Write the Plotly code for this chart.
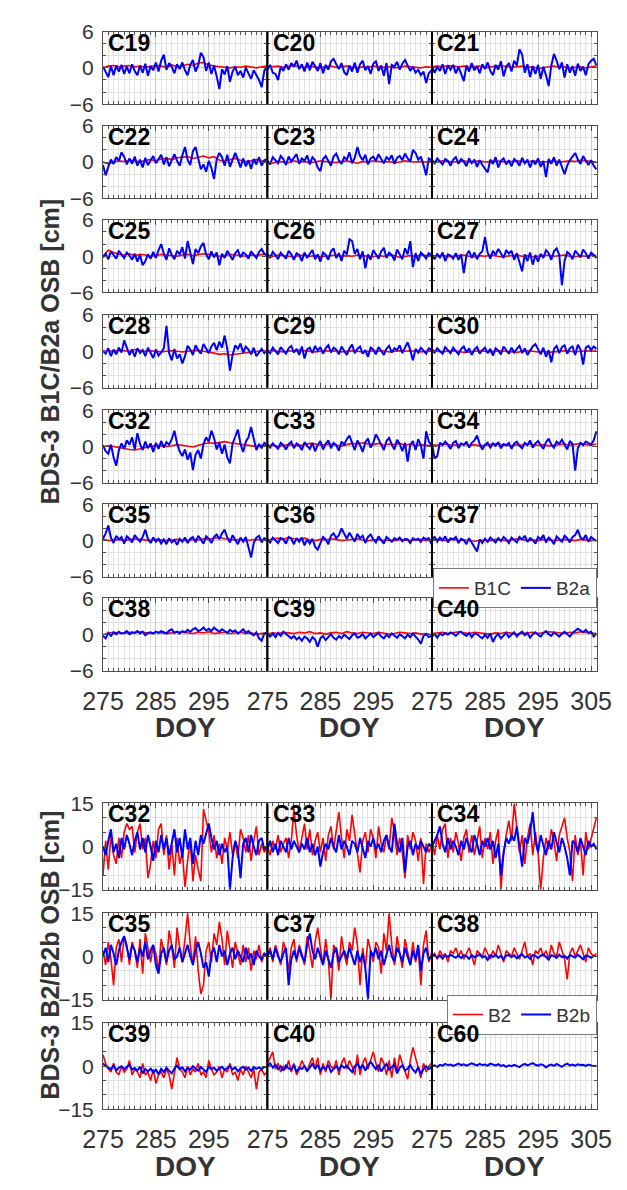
import plotly.graph_objects as go

W, H = 627, 1190
DAYS_HALF = [275 + 0.5 * i for i in range(63)]
DAYS = list(range(275, 307))

TOP_PRN = ["C19", "C20", "C21", "C22", "C23", "C24", "C25", "C26", "C27", "C28", "C29", "C30",
           "C32", "C33", "C34", "C35", "C36", "C37", "C38", "C39", "C40"]
BOT_PRN = ["C32", "C33", "C34", "C35", "C37", "C38", "C39", "C40", "C60"]
TOP_YTICKS = [-6, 0, 6]
BOT_YTICKS = [-15, 0, 15]
XTICKS = [275, 285, 295]
XTICKS_LAST = [275, 285, 295, 305]

# ---------------- B2a OSB (top panels, half-day) ----------------
B2A_C19 = [0.2,-0.8,-1.5,0.3,-1.2,0.4,-0.6,0.5,-1.0,0.2, -0.9,0.6,-0.5,-1.2,0.4,-0.8,0.7,-1.3,0.3,-0.4,
           0.9,-0.6,1.2,2.2,-0.3,0.8,0.2,-0.9,0.6,-0.2, 0.9,-0.4,-1.2,0.5,1.3,-0.6,0.4,2.5,1.8,-0.5,
           0.9,-1.0,0.4,-1.4,-3.5,-0.2,-1.1,0.3,-2.3,-0.6, 0.2,-1.2,-0.5,-1.6,0.1,-0.9,-1.8,-0.4,-1.2,-2.0,
           -3.2,-0.5,0.3]
B2A_C20 = [-0.3,0.5,-0.8,-1.0,-2.0,0.2,-0.5,0.6,-0.3,0.8, 0.2,1.2,-0.2,0.6,-0.6,0.9,-0.4,1.0,0.3,-0.5,
           0.8,-0.9,0.5,-0.3,1.1,1.5,0.6,-0.2,0.8,-0.7, -1.2,0.4,-0.6,0.9,-0.8,0.6,1.2,-0.4,0.3,-1.0,
           0.7,1.1,-0.5,0.4,-1.3,0.8,-2.7,0.5,0.2,1.0, -0.3,0.7,1.3,0.4,-0.5,0.2,-0.8,-0.3,-1.2,-0.6,
           -2.5,-0.9,-0.4]
B2A_C21 = [0.3,-0.8,0.2,-0.5,0.6,-1.0,0.4,-0.3,0.5,-0.9, 0.2,-1.2,-2.2,0.4,-0.6,0.8,-0.4,0.3,-0.9,0.6,
           -0.2,0.9,-0.5,-1.2,0.5,-0.3,1.1,-1.4,0.2,0.8, -0.6,1.2,0.4,3.1,2.2,-0.8,0.6,-1.5,0.3,-1.0,
           0.5,-1.8,0.2,-1.2,-3.0,0.4,2.3,1.2,-0.2,0.9, -1.6,0.6,-0.8,0.3,-1.3,0.7,-0.5,0.2,-1.2,0.6,
           1.2,1.5,0.4]
B2A_C22 = [-0.5,-2.2,-0.8,0.4,-0.3,0.8,0.2,1.6,0.9,-0.4, 0.6,-0.3,0.9,-0.6,0.4,-0.9,0.7,-0.5,0.3,1.0,
           -0.2,0.6,1.2,-0.4,0.8,-0.7,0.4,1.3,0.2,-0.6, 1.1,2.5,0.4,-0.5,1.8,2.5,0.6,-1.2,-0.4,-1.6,
           0.2,-1.0,-2.8,0.5,1.5,0.8,-0.6,1.2,-0.8,0.3, 1.5,0.4,-0.9,0.6,-0.7,0.3,-1.1,0.5,-0.4,0.8,
           -0.6,0.3,0.5]
B2A_C23 = [0.2,-0.4,0.8,0.3,-0.2,1.0,0.5,-0.5,0.9,0.1, 0.7,1.3,-0.3,0.6,0.2,1.1,-0.4,0.8,0.3,-0.9,
           -1.5,0.5,1.0,0.2,-0.6,0.9,1.4,0.3,-0.3,0.8, 0.4,1.6,-0.2,0.7,2.5,1.0,0.3,1.2,-0.4,0.6,
           0.9,0.2,1.3,0.5,-0.2,0.8,0.4,1.1,-0.3,0.7, 1.0,0.3,1.4,0.6,0.1,2.0,1.5,0.4,0.9,-0.5,
           -2.2,0.6,0.3]
B2A_C24 = [0.3,-0.2,0.6,0.1,-0.4,0.5,0.2,-0.6,0.4,0.8, -0.3,0.5,0.1,-0.7,0.6,-0.2,0.4,-0.8,0.3,-0.5,
           -1.2,-1.7,0.4,-0.3,0.8,-0.9,0.2,0.6,-0.4,0.3, -0.7,0.5,0.1,-0.6,0.7,-0.2,0.4,-0.9,0.3,-0.4,
           0.6,-0.8,0.2,-2.5,0.5,-0.3,0.8,-0.6,0.4,-0.9, -2.0,-0.6,0.3,0.9,1.5,0.4,-0.3,1.0,0.2,-0.5,
           0.3,-0.6,-1.2]
B2A_C25 = [-0.2,0.4,-0.5,0.8,0.2,-0.4,0.9,0.3,-0.3,0.6, 0.1,-0.6,0.4,-0.9,0.2,-1.5,-0.8,0.3,-0.4,0.7,
           -0.3,1.0,2.0,0.4,-0.6,1.3,0.2,-0.5,0.9,0.3, 1.5,-0.4,2.5,0.6,-1.3,1.2,0.5,1.6,2.2,0.3,
           -0.5,0.8,-0.2,0.6,-1.5,0.4,-0.3,0.9,0.2,-0.6, 0.5,1.0,-0.2,0.6,0.3,-0.4,0.8,0.2,-0.3,0.7,
           1.2,0.4,0.2]
B2A_C26 = [0.4,-0.3,0.7,0.2,-0.5,0.6,0.1,-0.4,0.9,0.3, -0.6,0.5,0.2,-0.8,0.6,-0.3,0.4,1.0,-0.5,0.3,
           -0.9,0.6,0.2,-0.6,0.8,1.3,-0.3,0.5,-0.8,0.9, 0.3,2.8,2.5,0.4,1.2,-0.5,0.8,-2.0,0.3,-0.6,
           1.0,0.2,-0.4,0.8,1.4,-0.3,0.6,0.2,-0.7,1.1, 0.4,-0.5,1.3,0.3,2.5,-1.8,0.5,-0.8,0.6,0.2,
           -0.4,0.5,0.1]
B2A_C27 = [0.2,-0.5,0.4,-0.3,0.6,-0.8,0.3,0.1,-0.4,0.5, -0.6,0.3,-2.8,0.2,0.9,-0.3,0.6,-0.5,0.4,0.8,
           3.2,0.6,-0.4,0.9,0.2,1.2,0.5,-0.3,1.0,0.4, 0.9,-0.6,0.5,-1.2,-2.5,0.3,-0.8,0.6,-1.4,0.2,
           -0.9,0.4,-0.3,1.0,0.5,-0.6,0.8,1.3,0.2,-4.8, -0.8,0.7,0.3,-0.5,0.9,0.4,-0.2,1.1,0.5,-0.4,
           0.6,0.2,-0.3]
B2A_C28 = [0.1,-0.4,0.5,-0.8,0.3,-0.5,0.6,-0.2,1.8,0.4, -0.6,0.3,-0.9,0.5,-0.3,0.2,-0.8,0.6,-0.4,-1.1,
           0.3,-0.7,-0.2,0.5,4.2,-0.3,-1.5,0.4,-1.2,-0.5, -2.0,-0.8,0.9,0.3,-0.6,1.0,0.2,-0.4,1.2,0.5,
           -0.3,0.8,1.4,0.2,1.6,0.6,2.6,0.4,-3.2,-0.6, 1.0,0.4,1.3,-0.2,0.8,0.3,-0.5,0.6,-0.8,-0.2,
           0.4,-0.3,0.2]
B2A_C29 = [0.2,-0.3,0.6,0.1,-0.5,0.7,0.2,-0.4,0.5,0.9, -0.2,0.4,-0.6,0.8,-1.2,0.3,0.6,-0.3,0.9,0.1,
           0.7,-0.4,0.5,1.0,-0.2,0.6,0.3,-0.5,0.8,0.2, -0.6,0.5,1.1,-0.3,0.4,0.8,-0.4,0.2,-0.9,0.6,
           0.3,-0.5,0.7,0.1,-0.6,0.4,0.9,-0.2,0.5,0.2, 1.0,-0.3,0.6,1.5,0.2,-1.5,0.4,-0.2,0.6,0.1,
           -0.4,0.5,0.3]
B2A_C30 = [0.3,-0.2,0.5,0.1,-0.4,0.7,0.2,-0.3,0.6,0.1, -0.5,0.4,0.8,-0.2,0.5,-0.6,0.3,0.7,-0.4,0.2,
           0.6,-0.3,0.4,-0.7,0.5,0.1,-0.5,0.8,0.2,-0.4, 0.6,-0.2,0.4,0.9,-0.3,0.5,-0.6,0.2,0.8,1.2,
           0.3,-0.5,0.6,-0.9,0.2,-1.8,0.4,0.9,-0.3,0.7, 1.0,-0.4,0.5,0.8,-0.6,1.1,0.3,-2.2,0.6,0.9,
           0.2,0.8,0.4]
B2A_C32 = [0.2,-0.8,-1.2,0.3,-1.8,-3.2,-0.6,0.5,-0.4,1.0, 0.3,1.5,-0.5,2.2,0.4,-0.6,0.8,-0.3,0.5,-0.9,
           0.6,-0.4,0.9,-0.2,0.7,0.3,1.2,2.6,0.5,-0.8, -1.6,-0.5,-2.2,-1.0,-3.9,-1.4,-0.6,-2.0,0.4,1.5,
           0.8,2.6,1.4,-0.5,0.6,-1.2,0.3,-1.8,-2.8,0.5, 1.6,2.8,0.4,-0.9,0.8,1.5,3.2,1.0,-0.6,0.4,
           -0.3,0.6,0.2]
B2A_C33 = [0.3,-0.2,0.5,0.1,-0.4,0.6,0.2,-0.5,0.4,0.8, -0.3,0.5,0.2,-0.6,0.7,0.1,-0.4,0.6,-0.8,0.3,
           0.9,-0.5,0.4,1.0,-0.3,0.6,0.2,-0.7,0.8,0.3, 1.2,1.8,0.5,-0.6,1.0,0.2,-0.9,0.7,1.3,-0.2,
           0.6,2.0,1.2,0.4,-0.6,0.9,1.4,0.3,-0.5,1.1, 0.4,-0.8,0.6,-2.5,0.3,0.9,-0.6,1.2,0.2,-2.0,
           2.5,0.8,0.2]
B2A_C34 = [0.5,-2.0,-1.6,0.6,0.2,0.8,0.3,-0.4,0.6,0.9, -0.3,0.5,0.2,0.8,-0.2,0.6,1.0,1.8,0.4,-0.5,
           0.3,0.6,-0.2,0.5,0.1,0.7,-0.3,0.4,0.2,0.6, -0.4,0.5,0.8,0.1,-0.3,0.6,0.2,1.0,-0.2,0.5,
           0.9,0.2,-0.4,0.7,1.3,0.3,-0.2,0.8,0.4,1.1, 0.2,-0.5,0.9,0.4,-4.0,-0.3,0.6,0.2,0.8,0.5,
           0.3,1.0,2.5]
B2A_C35 = [0.3,1.2,2.5,0.5,-0.4,0.8,0.2,0.6,-0.5,0.7, 0.3,-0.3,0.9,0.4,-0.2,0.6,1.8,0.3,-0.4,0.5,
           -0.2,0.3,-0.5,0.2,-0.6,0.4,-0.3,0.1,-0.7,0.3, -0.2,0.5,-0.4,0.3,0.6,-0.3,0.8,0.2,-0.5,0.7,
           0.3,-0.4,0.6,1.0,0.2,1.2,1.8,0.5,-0.3,0.9, 0.2,-0.6,0.5,-0.2,0.6,-0.9,-2.8,-0.4,0.5,0.8,
           -0.3,0.4,0.2]
B2A_C36 = [0.2,-0.3,0.5,0.1,-0.4,0.4,0.2,-0.5,0.6,0.3, -0.6,0.4,-0.2,0.5,-0.8,0.2,-0.5,0.3,-1.0,-1.5,
           -0.3,0.6,0.2,-0.6,0.8,1.2,0.4,0.9,2.0,1.2, 0.3,1.3,0.5,-0.2,1.1,0.4,0.8,-0.4,0.6,1.0,
           0.2,-0.3,0.7,0.1,-0.5,0.6,0.2,-0.2,0.4,0.1, 0.5,-0.1,0.3,0.2,-0.4,0.4,0.1,0.3,-0.2,0.5,
           0.2,0.4,-0.6]
B2A_C37 = [0.3,0.6,-0.2,0.5,0.1,0.7,-0.3,0.4,0.2,0.6, -0.4,0.3,0.1,-0.6,0.4,-0.3,-0.9,-1.8,0.2,-0.4,
           0.3,-0.2,0.5,0.1,-0.3,0.4,-0.1,0.6,0.2,-0.4, 0.5,0.1,-0.3,0.6,0.2,0.8,-0.2,0.4,0.1,-0.5,
           0.6,0.2,0.9,-0.3,0.5,0.1,-0.6,0.7,0.3,-0.2, 0.8,0.4,-0.3,0.6,0.9,1.8,0.5,0.2,0.9,-0.2,
           0.6,0.3,-0.1]
B2A_C38 = [-0.2,-0.6,0.3,-0.2,0.4,0.1,0.5,0.2,0.3,0.6, 0.1,0.4,0.3,0.6,0.2,0.5,-0.1,0.3,0.4,0.2,
           0.5,0.3,0.6,0.4,0.2,0.7,0.9,0.3,0.5,0.2, 0.6,0.4,0.8,0.5,0.9,1.1,0.6,0.8,1.2,0.7,
           1.0,0.6,1.2,0.8,0.5,0.9,0.6,0.3,0.8,0.5, 0.7,0.2,0.5,0.9,0.3,0.6,0.2,-0.1,0.4,-0.6,
           -1.0,0.2,0.3]
B2A_C39 = [0.1,-0.3,0.2,-0.4,0.3,-0.2,0.5,0.1,-0.3,-0.6, -0.2,-0.8,-0.4,-1.0,-0.3,-0.6,-1.2,-0.4,-0.8,-2.0,
           -0.6,-0.2,-0.9,-0.4,0.1,-0.5,-0.8,-0.2,-0.6,0.0, -0.4,-0.7,-0.1,0.2,-0.5,-0.3,0.1,-0.6,-0.2,0.2,
           -0.4,-0.1,0.3,-0.3,-0.6,0.0,-0.4,0.2,-0.2,-0.5, 0.1,-0.3,-0.6,0.0,-0.4,0.2,-0.3,-0.8,-1.5,-0.2,
           0.1,-0.4,-0.2]
B2A_C40 = [-0.3,0.1,-0.5,0.2,-0.1,0.3,0.0,0.4,0.2,-0.2, 0.3,0.5,0.1,-0.2,0.3,-0.4,0.2,0.1,-0.3,-0.6,
           0.0,-0.5,0.2,-1.2,-0.3,0.1,-0.6,-0.2,0.3,-0.4, 0.0,0.4,-0.3,0.2,0.5,-0.1,0.3,-0.5,0.1,0.4,
           0.0,-0.3,0.3,0.6,0.1,-0.2,0.4,0.0,-0.3,0.2, 0.5,0.1,-0.3,0.3,0.6,1.0,0.7,0.4,0.8,0.3,
           0.5,-0.3,0.2]

# ---------------- B1C OSB (top panels, daily) ----------------
B1C_C19 = [0,0.3,0.4,0.2,0.3,0.4,0.2,0.3,0.1,0.2,0.4,0.3,0.1,0.5,0.2,0.3,0.6,0.4,0.8,0.9,0.5,0.3,0.2,0.1,0.0,0.2,0.1,0.3,0.2,0.0,0.2,0.3]
B1C_C20 = [0.1,0.2,0.3,0.1,0.2,0.4,0.2,0.1,0.3,0.2,0.0,0.2,0.3,0.1,0.2,0.3,0.1,0.0,0.2,0.1,0.3,0.2,0.1,0.2,0.0,0.1,0.3,0.2,0.1,0.0,0.2,0.1]
B1C_C21 = [0.2,0.3,0.2,0.4,0.3,0.2,0.3,0.1,0.2,0.3,0.0,0.2,0.3,0.4,0.2,0.1,0.2,0.3,0.1,0.2,-0.1,0.0,0.2,0.3,0.1,0.2,0.0,0.1,0.2,0.0,0.1,0.3]
B1C_C22 = [0,-0.3,0.0,0.2,0.1,0.3,0.2,0.0,0.3,0.4,0.2,0.5,0.6,0.4,0.7,0.8,0.9,0.6,0.8,1.0,0.7,0.9,0.3,0.2,0.4,0.6,0.3,0.1,0.2,0.4,0.2,0.1]
B1C_C23 = [0.0,-0.2,0.1,0.0,-0.1,0.2,0.0,0.1,-0.1,0.0,0.2,0.1,0.0,-0.1,0.1,0.2,0.0,-0.2,0.1,0.0,0.2,0.1,0.0,0.1,-0.1,0.0,0.2,0.1,0.0,0.1,0.0,0.1]
B1C_C24 = [0.1,0.0,0.2,0.1,0.0,0.1,0.2,0.0,0.1,0.2,0.0,0.1,0.2,0.1,0.0,0.1,0.2,0.1,0.0,0.2,0.1,0.0,0.1,0.2,0.0,0.1,0.2,0.1,0.3,0.2,0.1,0.0]
B1C_C25 = [0.0,1.0,0.6,0.3,0.2,0.4,0.1,0.3,0.2,0.0,0.1,0.3,0.2,0.1,0.0,0.2,0.3,0.1,0.2,0.4,0.3,0.2,0.0,0.1,0.3,0.2,0.1,0.0,0.2,0.1,0.3,0.2]
B1C_C26 = [0.1,0.0,0.2,0.1,0.0,-0.1,0.1,0.2,0.0,0.1,-0.1,0.0,0.1,0.2,0.0,0.1,0.0,0.2,0.1,0.0,-0.1,0.1,0.0,0.2,0.1,-0.2,0.0,0.1,0.0,0.2,0.1,0.0]
B1C_C27 = [0.1,0.0,0.2,-0.1,0.0,0.1,0.2,0.0,-0.1,0.1,0.0,0.2,0.1,-0.1,0.0,0.1,0.2,0.0,0.1,-0.1,0.0,0.1,0.2,0.0,0.1,0.2,0.0,-0.1,0.1,0.0,0.2,0.1]
B1C_C28 = [0.0,0.1,0.0,0.2,0.1,0.0,0.3,0.2,0.0,0.1,0.0,-0.1,0.0,0.1,0.0,-0.1,0.0,0.1,0.2,0.0,-0.1,-0.3,-0.5,-0.4,-0.6,-0.5,-0.3,-0.2,-0.1,0.0,0.1,0.0]
B1C_C29 = [0.0,0.1,0.0,-0.1,0.1,0.0,0.2,0.1,0.0,-0.1,0.0,0.1,0.0,0.1,-0.1,0.0,0.1,0.0,-0.1,0.0,0.1,0.0,0.1,-0.1,0.0,0.1,0.0,0.1,0.0,-0.1,0.0,0.1]
B1C_C30 = [0.1,0.0,-0.1,0.0,0.1,0.0,-0.2,-0.1,0.0,0.1,0.0,-0.1,0.0,0.1,0.0,-0.1,-0.2,0.0,0.1,0.0,-0.1,0.0,-0.2,-0.1,0.0,0.1,0.0,-0.1,0.0,0.1,0.0,0.1]
B1C_C32 = [0.0,0.1,0.0,-0.2,-0.4,-0.5,-0.6,-0.4,-0.2,0.0,0.2,0.1,0.0,0.1,0.3,0.2,0.0,-0.1,0.2,0.4,0.6,0.5,0.7,0.8,0.6,0.5,0.3,0.2,0.1,0.0,0.2,0.1]
B1C_C33 = [0.1,0.2,0.0,0.1,0.3,0.2,0.1,0.3,0.5,0.4,0.2,0.3,0.4,0.2,0.1,0.3,0.5,0.4,0.6,0.4,0.3,0.5,0.2,0.4,0.3,0.5,0.2,0.4,0.1,0.3,0.2,0.1]
B1C_C34 = [0.3,0.2,0.4,0.3,0.2,0.3,0.4,0.2,0.3,0.1,0.2,0.3,0.4,0.3,0.2,0.1,0.3,0.2,0.4,0.3,0.2,0.3,0.1,0.2,0.3,0.4,0.2,0.3,0.5,0.3,0.2,0.4]
B1C_C35 = [0.2,0.0,0.1,0.2,0.0,0.1,0.3,0.2,0.1,0.0,0.2,0.1,0.0,0.1,0.2,0.1,0.0,0.2,0.1,0.3,0.2,0.4,0.5,0.3,0.2,0.1,0.2,0.0,0.1,0.2,0.1,0.0]
B1C_C36 = [0.1,0.3,0.4,0.2,0.5,0.3,0.2,0.4,0.1,0.0,0.2,0.1,0.3,0.2,0.0,0.1,0.2,0.3,0.1,0.0,0.1,0.2,0.0,0.1,0.0,0.2,0.1,0.0,0.1,0.2,0.0,0.1]
B1C_C37 = [0.1,0.2,0.0,0.1,0.2,0.0,0.1,0.0,-0.1,0.0,0.1,0.0,0.2,0.1,0.0,0.1,0.3,0.2,0.0,0.1,0.0,0.2,0.1,0.0,0.1,0.2,0.1,0.0,0.2,0.1,0.0,0.1]
B1C_C38 = [0.0,0.3,0.4,0.3,0.2,0.4,0.3,0.5,0.3,0.2,0.4,0.3,0.2,0.3,0.5,0.4,0.3,0.2,0.4,0.3,0.5,0.2,0.3,0.4,0.2,0.3,0.4,0.2,0.3,0.1,0.2,0.3]
B1C_C39 = [0.1,0.3,0.2,0.4,0.3,0.2,0.4,0.3,0.5,0.2,0.3,0.1,0.3,0.4,0.2,0.5,0.3,0.2,0.4,0.3,0.2,0.4,0.3,0.1,0.2,0.4,0.3,0.2,0.3,0.1,0.2,0.0]
B1C_C40 = [0.2,0.3,0.4,0.2,0.3,0.5,0.3,0.2,0.4,0.3,0.2,0.1,0.3,0.2,0.4,0.3,0.1,0.2,0.3,0.4,0.2,0.3,0.5,0.4,0.3,0.2,0.4,0.3,0.5,0.4,0.3,0.2]

# ---------------- B2 OSB (bottom panels, half-day) ----------------
B2_C32 = [-10,2,-8,4,-3,-6,3,-4,5,8, 6,7,-2,5,8,-1,3,-11,-6,2, -4,6,8,-3,4,-8,1,-10,3,-6,
          -2,-14,-5,2,-12,-3,-8,-12,13,9, 5,-2,4,-4,1,-6,3,-1,5,-3, 2,-4,6,3,-2,4,-5,2,7,-3, 1,-2,0]
B2_C33 = [0,-3,2,-1,4,-2,1,3,-4,2, 13,4,-2,3,8,-1,6,-3,2,5, -2,3,-5,4,7,-1,5,12,3,-4,
          6,2,11,4,-3,-9,2,5,-2,6, 3,-4,7,1,-2,4,-1,10,5,-3, 3,-2,-11,4,-1,5,2,-5,3,-13, 1,-2,0]
B2_C34 = [2,-3,4,-1,6,8,-4,3,-2,5, 1,-5,3,6,-2,4,-3,2,7,-4, 3,-1,5,-6,2,6,-15,-3,4,9,
          2,15,6,-2,4,-6,3,8,-3,5, -2,-15,-4,3,-1,6,2,-5,4,7, 10,3,-2,-12,4,-3,2,-10,5,-1, 3,6,10]
B2_C35 = [2,-3,5,-1,-10,3,6,-2,7,4, -3,5,2,-4,6,-6,8,3,-2,4, 1,-5,6,2,-3,9,4,-4,10,3,
          -2,6,15,4,-3,7,-5,-13,-10,2, 5,-2,8,4,12,6,-3,9,2,-4, 5,1,-3,4,-2,3,-5,2,-1,4, -2,1,0]
B2_C37 = [0,3,-2,4,1,-3,5,2,-5,3, 6,-2,4,1,-3,7,2,-4,5,10, 3,-3,6,-1,-15,4,2,-5,7,1,
          -3,5,2,10,4,-10,3,-4,6,2, -2,5,3,-6,8,2,15,4,-3,7, 2,-4,6,1,-3,5,-2,3,-10,4, 9,-2,1]
B2_C38 = [0,1,-1,2,0,1,-2,2,1,3, 0,2,-1,1,3,0,-3,2,1,0, 3,1,-1,2,0,4,1,-2,2,1,
          0,3,1,-1,2,5,0,1,-3,2, 1,3,0,2,-1,4,1,0,5,2, -1,-8,1,3,0,2,4,1,-2,3, 1,0,1]
B2_C39 = [4,1,-1,-2,1,-2,-3,0,-2,-1, 2,-3,-1,-2,-4,1,-3,-2,-5,-1, -6,-3,-2,-4,-1,-3,-8,-2,3,-1,
          -2,-4,0,-3,-1,-2,1,-3,-2,-4, 2,-1,-3,-2,0,-4,-1,-2,1,-3, -2,-5,-1,-3,0,-2,-4,-1,-8,-2, -1,-3,-2]
B2_C40 = [1,3,5,-1,1,-2,0,-1,2,-2, 1,-3,-1,2,0,-2,1,3,-1,3, -3,1,-2,2,0,-1,2,-3,1,3,
          -1,2,0,-3,4,-3,1,3,-1,2, 5,1,-2,3,1,-3,2,-4,3,-2, 4,1,-2,-4.5,2,6.5,3,-1,-4,1, -2,0,1]

# ---------------- B2b OSB (bottom panels, half-day) ----------------
B2B_C32 = [0,-3,2,6,-2,1,-4,3,-1,4, 1,-3,2,5,-1,3,-2,4,0,-5, 2,-2,4,-1,3,-3,1,6,-2,3,
           -4,6,-1,3,-6,2,-3,4,1,5, 8,3,-1,2,-3,1,-2,0,-15,-4, 2,-1,-11,1,3,-2,4,0,-3,2, 3,-1,0]
B2B_C33 = [-1,2,-2,1,-3,2,0,-2,3,-1, 2,0,-2,1,-1,3,-2,1,-3,0, -7,-2,1,-1,3,0,-2,4,-1,2,
           0,-3,2,1,-2,3,-1,-4,2,0, 3,-1,1,-2,2,4,0,-2,8,1, -2,3,-9,0,2,-3,1,-1,2,0, -2,1,0]
B2B_C34 = [0,2,4,7,1,-2,3,-1,2,0, -3,2,-1,3,0,-2,4,1,-3,2, 0,3,-1,2,-4,1,-10,-2,3,1,
           4,2,7,0,-7,3,1,5,12,2, -2,4,0,-3,2,-1,5,1,-2,3, 0,-4,-10,2,1,-2,3,0,-3,2, 0,1,-1]
B2B_C35 = [0,3,-2,4,1,-3,2,5,7,3, -1,4,2,-2,3,0,5,-1,2,4, -3,-6,1,3,-2,2,4,-1,0,3,
           -2,1,4,0,-3,2,5,1,-4,-2, -7,1,3,-2,4,0,2,-3,1,3, -1,2,0,-2,3,-1,1,-3,2,0, -1,1,0]
B2B_C37 = [0,2,-1,3,0,-2,1,3,-10,-1, 2,-1,3,0,-2,4,8,2,-1,3, 0,-3,2,-1,-4,1,3,-2,0,2,
           -1,3,0,-3,2,-2,1,-4,-15,2, 0,3,-1,2,-3,1,4,0,-2,3, 1,-2,3,0,-3,2,-1,4,-5,1, 3,-1,0]
B2B_C38 = [0.0,0.5,-0.5,0.3,-0.8,0.4,-0.2,0.6,0.0,-0.5, 0.3,-0.6,0.4,0.1,-0.9,0.5,-0.3,0.2,0.7,-0.4,
           0.1,-1.2,0.4,-0.2,0.6,-0.5,0.2,-1.0,0.3,0.5, -0.3,0.4,-0.7,0.2,0.8,-0.4,0.1,-0.9,0.5,0.2,
           -0.6,0.3,0.7,-0.2,-1.1,0.4,0.1,-0.5,0.6,-0.3, 0.2,-0.8,0.5,0.0,-0.4,0.6,-0.2,-1.0,0.3,0.1,
           -0.5,0.2,0.0]
B2B_C39 = [1.0,0.0,-0.5,-1.0,0.2,-1.5,-0.5,0.0,-1.0,-0.3, 0.5,-1.2,-0.6,-1.5,-0.2,-2.5,-1.0,-1.8,-0.8,-2.2,
           -1.2,-2.8,-0.9,-2.0,-0.5,-1.6,-2.5,-0.8,0.2,-1.0, -0.4,-1.8,-0.6,-1.2,0.0,-0.9,-1.5,-0.3,-1.1,-2.0,
           -0.2,-1.0,-0.5,-1.6,-0.8,-0.2,-1.3,-0.6,0.1,-1.1, -0.4,-1.8,-0.7,-0.2,-1.2,-0.5,-1.6,-0.3,-0.9,-0.4,
           -1.0,-0.2,-0.5]
B2B_C40 = [0,1,-0.5,0.5,-1,0,-1.5,0.3,-0.8,-1.2, 0.5,-2,-0.5,-1,0,-1.5,-0.5,1,-1,0.5,
           -1.5,-0.3,-1,0.5,-2,-0.8,0,-1.2,0.4,-0.6, 0.2,-1,-2,0,1,-0.8,0.5,-1.5,0.3,1.5,
           0,-1,0.5,-1.8,-0.4,0.8,-1.2,-0.2,0.6,-2.5, -0.5,0.3,-1.5,-0.8,0.4,-1.2,-2.2,-0.3,-2.8,-1,
           0,-1,-0.5]
B2B_C60 = [0.0,0.3,-0.3,0.5,0.2,0.8,0.4,0.6,0.1,0.5, 0.9,0.4,0.7,0.2,0.5,1.0,0.6,0.3,0.8,0.4,
           0.6,0.2,0.9,0.5,0.3,0.7,0.1,0.4,-0.2,0.3, 0.0,0.5,0.2,-0.3,0.4,0.8,0.3,0.6,1.1,0.5,
           0.2,0.7,0.4,-0.4,0.3,0.6,0.1,0.8,0.4,-0.2, 0.5,0.9,0.3,0.6,0.2,0.7,0.4,0.5,0.1,0.6,
           0.3,0.0,0.2]

g = globals()
TOP_RED = {p: g["B1C_" + p] for p in TOP_PRN}
TOP_BLUE = {p: g["B2A_" + p] for p in TOP_PRN}
BOT_RED = {p: g.get("B2_" + p) for p in BOT_PRN}
BOT_BLUE = {p: g["B2B_" + p] for p in BOT_PRN}

# ---------------- layout geometry (pixels) ----------------
COL_X = [87, 261.5, 436, 611]
TOP_ROWS = [20, 116, 212, 309, 406, 502, 598]
TOP_H = 74
BOT_ROWS = [807, 919, 1031]
BOT_H = 88
XR = [275, 306.1]

FONT = "Liberation Sans, Arial, sans-serif"
TXT = "#333333"
GRID_MAJ = "rgb(200,200,200)"
GRID_MIN = "rgb(226,226,226)"
AXLINE = "rgb(80,80,80)"
RED = "rgb(255,0,0)"
BLUE = "rgb(0,0,255)"

fig = go.Figure()
layout = {}
annotations = []
shapes = []


def add_panel(k, col, top, h, yr, yticks, ydt, label, red, blue, show_x, leg, names):
    xa = "x" if k == 1 else f"x{k}"
    ya = "y" if k == 1 else f"y{k}"
    xd = [COL_X[col] / W, COL_X[col + 1] / W]
    yd = [1 - (top + h) / H, 1 - top / H]
    layout["xaxis" if k == 1 else f"xaxis{k}"] = dict(
        domain=xd, anchor=ya, range=XR, tickmode="array",
        tickvals=XTICKS_LAST if col == 2 else XTICKS,
        showticklabels=show_x, ticks="inside", ticklen=5, tickcolor=AXLINE,
        tickfont=dict(family=FONT, size=25, color=TXT), ticklabelstandoff=8,
        showgrid=True, gridcolor=GRID_MAJ, gridwidth=1, zeroline=False,
        showline=True, linecolor=AXLINE, linewidth=1, mirror="ticks",
        minor=dict(dtick=1, tick0=275, showgrid=True, gridcolor=GRID_MIN, gridwidth=1,
                   ticks="inside", ticklen=3, tickcolor=AXLINE),
    )
    layout["yaxis" if k == 1 else f"yaxis{k}"] = dict(
        domain=yd, anchor=xa, range=yr, tickmode="array", tickvals=yticks,
        showticklabels=(col == 0), ticks="inside", ticklen=5, tickcolor=AXLINE,
        tickfont=dict(family=FONT, size=21, color=TXT), ticklabelstandoff=4,
        showgrid=True, gridcolor=GRID_MAJ, gridwidth=1, zeroline=False,
        showline=True, linecolor=AXLINE, linewidth=1, mirror="ticks",
        minor=dict(dtick=ydt, tick0=yr[0], showgrid=True, gridcolor=GRID_MIN, gridwidth=1,
                   ticks="inside", ticklen=3, tickcolor=AXLINE),
    )
    if red is not None:
        xs = DAYS if len(red) <= len(DAYS) else DAYS_HALF
        fig.add_trace(go.Scatter(x=xs[:len(red)], y=red, mode="lines", xaxis=xa, yaxis=ya,
                                 line=dict(color=RED, width=1.6), name=names[0],
                                 showlegend=leg is not None, legend=leg or "legend"))
    fig.add_trace(go.Scatter(x=DAYS_HALF[:len(blue)], y=blue, mode="lines", xaxis=xa, yaxis=ya,
                             line=dict(color=BLUE, width=2), name=names[1],
                             showlegend=leg is not None, legend=leg or "legend"))
    annotations.append(dict(text=f"<b>{label}</b>", xref=f"{xa} domain", yref=f"{ya} domain",
                            x=0.02, y=1.0, xanchor="left", yanchor="top", yshift=4, showarrow=False,
                            font=dict(family=FONT, size=23, color="black")))
    if col > 0:
        shapes.append(dict(type="line", xref=f"{xa} domain", yref=f"{ya} domain",
                           x0=0, x1=0, y0=0, y1=1, line=dict(color="black", width=2)))


k = 1
for i, p in enumerate(TOP_PRN):
    r, c = divmod(i, 3)
    leg = "legend" if i == 0 else None
    add_panel(k, c, TOP_ROWS[r], TOP_H, [-6, 6], TOP_YTICKS, 2, p, TOP_RED[p], TOP_BLUE[p],
              r == len(TOP_ROWS) - 1, leg, ("B1C", "B2a"))
    k += 1
for i, p in enumerate(BOT_PRN):
    r, c = divmod(i, 3)
    leg = "legend2" if i == 0 else None
    add_panel(k, c, BOT_ROWS[r], BOT_H, [-15, 15], BOT_YTICKS, 5, p, BOT_RED[p], BOT_BLUE[p],
              r == len(BOT_ROWS) - 1, leg, ("B2", "B2b"))
    k += 1

# axis titles
for c in range(3):
    xc = (COL_X[c] + COL_X[c + 1]) / 2 / W
    for yy in (730, 1177):
        annotations.append(dict(text="<b>DOY</b>", xref="paper", yref="paper", x=xc, y=1 - yy / H,
                                xanchor="center", yanchor="middle", showarrow=False,
                                font=dict(family=FONT, size=28, color=TXT)))
annotations.append(dict(text="<b>BDS-3 B1C/B2a OSB [cm]</b>", xref="paper", yref="paper",
                        x=31 / W, y=1 - 346 / H, textangle=-90, xanchor="center", yanchor="middle",
                        showarrow=False, font=dict(family=FONT, size=25, color=TXT)))
annotations.append(dict(text="<b>BDS-3 B2/B2b OSB [cm]</b>", xref="paper", yref="paper",
                        x=31 / W, y=1 - 962 / H, textangle=-90, xanchor="center", yanchor="middle",
                        showarrow=False, font=dict(family=FONT, size=25, color=TXT)))

leg_common = dict(orientation="h", xanchor="right", yanchor="top", bgcolor="white",
                  bordercolor="rgb(120,120,120)", borderwidth=1,
                  font=dict(family=FONT, size=19, color=TXT), itemclick=False)
fig.update_layout(
    width=W, height=H, margin=dict(l=0, r=0, t=0, b=0),
    paper_bgcolor="white", plot_bgcolor="white",
    legend=dict(x=COL_X[3] / W, y=1 - 567 / H, **leg_common),
    legend2=dict(x=COL_X[3] / W, y=1 - 1002 / H, **leg_common),
    annotations=annotations, shapes=shapes, **layout,
)
fig.write_html("out.html",
               post_script="document.body.style.margin='0';document.body.style.overflow='hidden';")
